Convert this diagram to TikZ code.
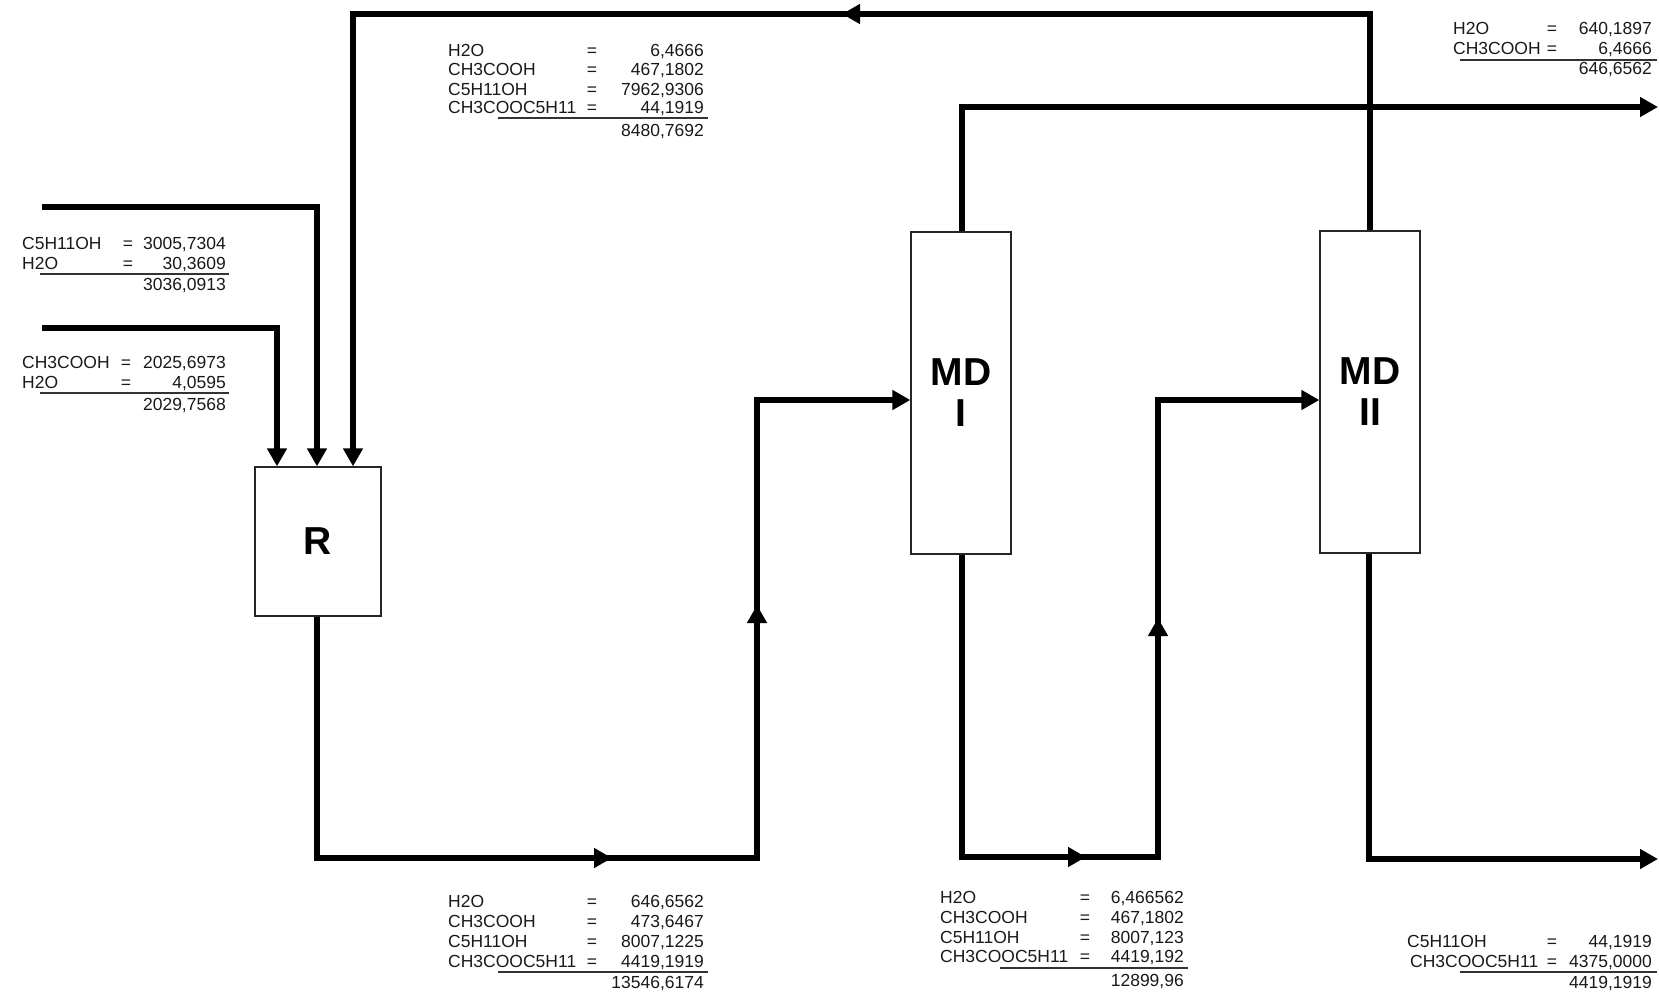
\documentclass[tikz,border=0pt]{standalone}
\usepackage{fontspec}
\setmainfont{Liberation Sans}
\usetikzlibrary{arrows.meta}
\newcommand\comprow[7]{%
  \node[txt,anchor=base west] (#1l) at (#3,#2) {#6};
  \node[txt,anchor=base] (#1e) at (#4,#2) {=};
  \node[txt,anchor=base east] (#1v) at (#5,#2) {#7};}
\begin{document}
\begin{tikzpicture}[x=1pt,y=-1pt,
  txt/.style={inner sep=0pt,font=\fontsize{17.5}{20}\selectfont,text=black!90},
  unit/.style={draw=black!85,line width=1.3pt,fill=white,inner sep=0pt,
    font=\fontsize{39}{41}\selectfont\bfseries,align=center},
  flow/.style={line width=5.5pt,line join=miter},
  rulel/.style={line width=1.4pt,black!80},
  >={Triangle[length=18pt,width=19pt]}]
\useasboundingbox (0,0) rectangle (1659,1003);

% units
\node[unit,minimum width=126pt,minimum height=149pt] (R) at (318,541.5) {R};
\node[unit,minimum width=100pt,minimum height=322pt] (MD1) at (961,393) {MD\\I};
\node[unit,minimum width=100pt,minimum height=322pt] (MD2) at (1370,392) {MD\\II};

% free ends and corners
\coordinate (f1) at (42,207);
\coordinate (f2) at (42,328);
\coordinate (rtop) at (353,14);
\coordinate (b1) at (757,858);
\coordinate (b2) at (1158,857);
\coordinate (o1) at (1658,107);
\coordinate (o2) at (1658,859);
\coordinate (m1) at (842,14);
\coordinate (m2) at (612,858);
\coordinate (m3) at (757,605);
\coordinate (m4) at (1086,857);
\coordinate (m5) at (1158,618);

% feeds
\draw[flow,->] (f1) -| ([xshift=-1pt]R.north);
\draw[flow,->] (f2) -| ([xshift=-41pt]R.north);
% recycle
\draw[flow,->] (MD2.north) |- (rtop) -- (rtop |- R.north);
\draw[flow,->] (MD2.north |- rtop) -- (m1);
% R -> MD I
\draw[flow,->] ([xshift=-1pt]R.south) |- (b1) |- ([yshift=-7pt]MD1.west);
\draw[flow,->] ([xshift=-1pt]R.south |- b1) -- (m2);
\draw[flow,->] (b1) -- (m3);
% MD I bottoms -> MD II
\draw[flow,->] ([xshift=1pt]MD1.south) |- (b2) |- ([yshift=-8pt]MD2.west);
\draw[flow,->] ([xshift=1pt]MD1.south |- b2) -- (m4);
\draw[flow,->] (b2) -- (m5);
% MD I distillate
\draw[flow,->] ([xshift=1pt]MD1.north) |- (o1);
% MD II bottoms
\draw[flow,->] ([xshift=-1pt]MD2.south) |- (o2);

% recycle stream table
\comprow{ta}{57}{448}{592}{704}{H2O}{6,4666}
\comprow{tb}{76}{448}{592}{704}{CH3COOH}{467,1802}
\comprow{tc}{96}{448}{592}{704}{C5H11OH}{7962,9306}
\comprow{td}{114}{448}{592}{704}{CH3COOC5H11}{44,1919}
\draw[rulel] (498,118) -- (708,118);
\node[txt,anchor=base east] (tt) at (704,137) {8480,7692};

% feed 1 table
\comprow{la}{249}{22}{128}{226}{C5H11OH}{3005,7304}
\comprow{lb}{269}{22}{128}{226}{H2O}{30,3609}
\draw[rulel] (40,274) -- (229,274);
\node[txt,anchor=base east] (lt) at (226,290) {3036,0913};

% feed 2 table
\comprow{ka}{368}{22}{126}{226}{CH3COOH}{2025,6973}
\comprow{kb}{388}{22}{126}{226}{H2O}{4,0595}
\draw[rulel] (40,393) -- (229,393);
\node[txt,anchor=base east] (kt) at (226,410) {2029,7568};

% reactor outlet table
\comprow{ba}{907}{448}{592}{704}{H2O}{646,6562}
\comprow{bb}{927}{448}{592}{704}{CH3COOH}{473,6467}
\comprow{bc}{947}{448}{592}{704}{C5H11OH}{8007,1225}
\comprow{bd}{967}{448}{592}{704}{CH3COOC5H11}{4419,1919}
\draw[rulel] (498,972) -- (708,972);
\node[txt,anchor=base east] (bt) at (704,988) {13546,6174};

% MD I bottoms table
\comprow{ca}{903}{940}{1085}{1184}{H2O}{6,466562}
\comprow{cb}{923}{940}{1085}{1184}{CH3COOH}{467,1802}
\comprow{cc}{943}{940}{1085}{1184}{C5H11OH}{8007,123}
\comprow{cd}{962}{940}{1085}{1184}{CH3COOC5H11}{4419,192}
\draw[rulel] (1000,968) -- (1188,968);
\node[txt,anchor=base east] (ct) at (1184,986) {12899,96};

% MD II bottoms table
\comprow{da}{947}{1407}{1552}{1652}{C5H11OH}{44,1919}
\comprow{db}{967}{1410}{1552}{1652}{CH3COOC5H11}{4375,0000}
\draw[rulel] (1460,972) -- (1657,972);
\node[txt,anchor=base east] (dt) at (1652,988) {4419,1919};

% MD II distillate table
\comprow{ea}{35}{1453}{1552}{1652}{H2O}{640,1897}
\comprow{eb}{55}{1453}{1552}{1652}{CH3COOH}{6,4666}
\draw[rulel] (1460,60) -- (1657,60);
\node[txt,anchor=base east] (et) at (1652,75) {646,6562};
\end{tikzpicture}
\end{document}
